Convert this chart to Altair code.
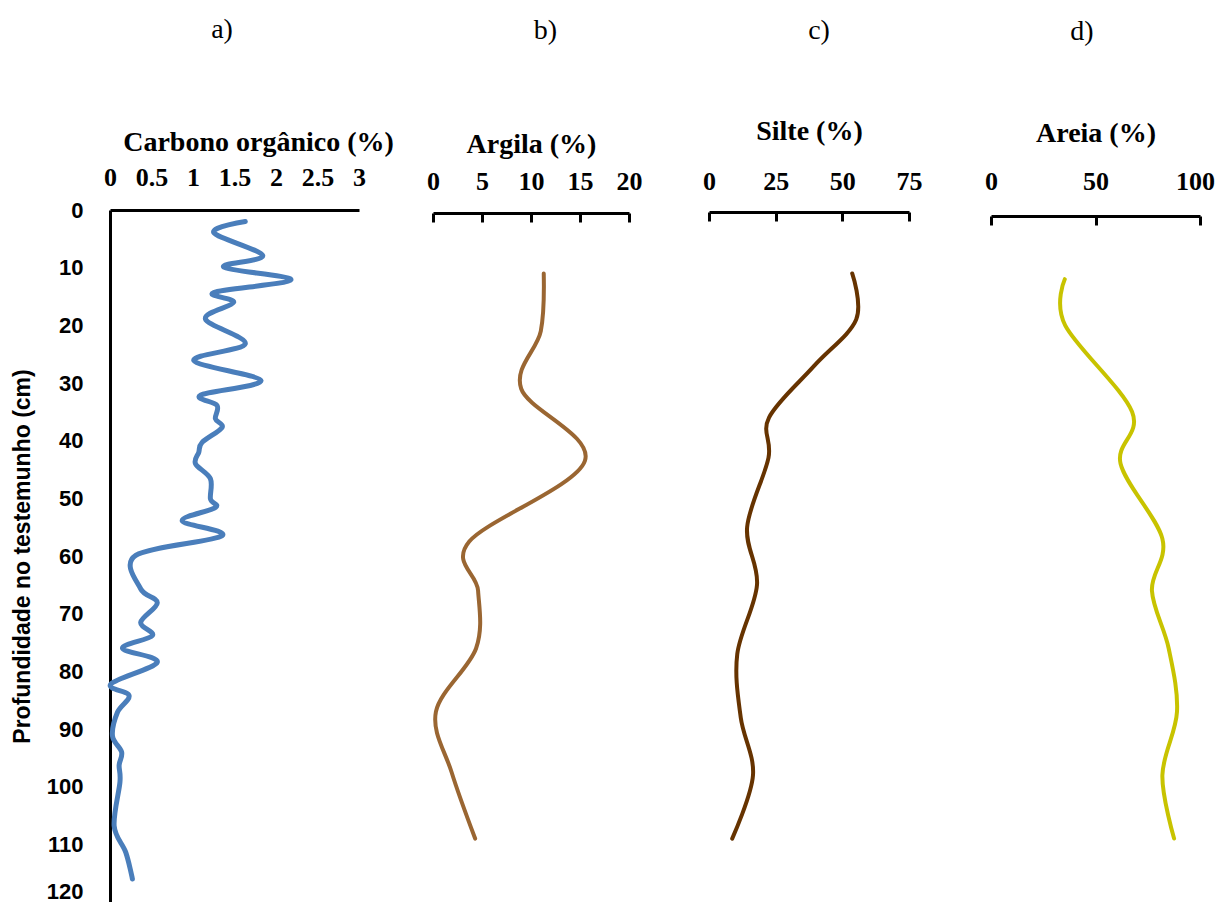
import altair as alt
import pandas as pd

# ---------------- data ----------------
carb_depth = [2.0, 3.9, 7.9, 9.9, 12.1, 14.3, 16.0, 18.9, 23.2, 26.1, 29.6, 32.1, 33.9, 36.2, 37.7,
              40.3, 42.0, 44.0, 46.6, 50.1, 51.6, 53.9, 56.5, 59.9, 65.7, 68.1, 71.5, 73.8, 76.0,
              78.4, 82.2, 84.2, 87.1, 91.2, 94.0, 96.3, 99.2, 106.8, 111.4, 116.0]
carb_val = [1.63, 1.25, 1.84, 1.37, 2.18, 1.25, 1.49, 1.15, 1.63, 1.01, 1.82, 1.09, 1.29, 1.27, 1.35,
            1.11, 1.07, 1.03, 1.21, 1.21, 1.27, 0.87, 1.35, 0.31, 0.37, 0.57, 0.37, 0.51, 0.15,
            0.57, 0.01, 0.23, 0.09, 0.03, 0.14, 0.11, 0.12, 0.05, 0.19, 0.27]

arg_depth = [11, 21, 31, 43.5, 57.5, 66, 76, 87, 97.5, 109]
arg_val = [11.3, 11.0, 9.0, 15.5, 3.7, 4.6, 4.4, 0.3, 1.9, 4.3]

silt_depth = [11, 19, 27, 36, 43, 55, 65, 77, 88, 98, 109]
silt_val = [53.7, 55.2, 39.5, 22.5, 22.3, 14.3, 18.0, 10.6, 11.9, 16.5, 8.7]

areia_depth = [12, 20, 35, 44, 57, 66, 76, 87, 98, 109]
areia_val = [35.3, 35.5, 67.5, 62.0, 82.0, 77.0, 85.0, 89.0, 82.0, 87.6]

panel_labels = ["a)", "b)", "c)", "d)"]
x_titles = ["Carbono orgânico (%)", "Argila (%)", "Silte (%)", "Areia (%)"]
carb_ticks = [0, 0.5, 1, 1.5, 2, 2.5, 3]
arg_ticks = [0, 5, 10, 15, 20]
silt_ticks = [0, 25, 50, 75]
areia_ticks = [0, 50, 100]
depth_ticks = list(range(0, 121, 10))
y_title = "Profundidade no testemunho (cm)"

# ---------------- style ----------------
SERIF = "Liberation Serif"
SANS = "Liberation Sans"
H = 692


def ydepth(with_axis):
    if with_axis:
        ax = alt.Axis(values=depth_ticks, ticks=False, tickSize=0, grid=False,
                      domainColor="black", domainWidth=3,
                      labelFont=SANS, labelFontSize=22, labelFontWeight="bold",
                      labelColor="black", labelPadding=27, labelFlush=False,
                      labelOffset=alt.condition("datum.value == 120", alt.value(-11), alt.value(0)),
                      title=y_title, titleFont=SANS, titleFontSize=23,
                      titleFontWeight="bold", titleColor="black", titlePadding=12)
    else:
        ax = None
    return alt.Y("depth:Q", scale=alt.Scale(domain=[0, 120], reverse=True, nice=False, zero=False),
                 axis=ax)


def top_axis(ticks, title, label_pad, title_pad, offset, title_x=None):
    kw = {}
    if title_x is not None:
        kw["titleX"] = title_x
    last = ticks[-1]
    shift = -5 if last == 100 else 0
    return alt.Axis(orient="top", values=ticks, ticks=False, tickSize=0, grid=False,
                    domainColor="black", domainWidth=3, offset=offset, format="~f",
                    labelFont=SERIF, labelFontSize=26, labelFontWeight="bold",
                    labelColor="black", labelPadding=label_pad, labelFlush=False,
                    labelOverlap=False,
                    labelOffset=alt.condition(f"datum.value == {last}", alt.value(shift),
                                              alt.value(0)),
                    title=title, titleFont=SERIF, titleFontSize=28, titleFontWeight="bold",
                    titleColor="black", titlePadding=title_pad, **kw)


def panel(depths, vals, ticks, title, label, color, width, stroke, label_pad, title_pad,
          offset, t_offset, t_dx, first=False, title_x=None):
    df = pd.DataFrame({"depth": depths, "v": vals})
    xscale = alt.Scale(domain=[ticks[0], ticks[-1]], nice=False, zero=False)
    base = alt.Chart(df)
    line = base.mark_line(color=color, strokeWidth=stroke, interpolate="cardinal",
                          strokeCap="round", strokeJoin="round").encode(
        x=alt.X("v:Q", scale=xscale,
                axis=top_axis(ticks, title, label_pad, title_pad, offset, title_x)),
        y=ydepth(first),
        order=alt.Order("depth:Q"),
    )
    layers = [line]
    if not first:
        tick_layer = base.mark_line(opacity=0).encode(
            x=alt.X("v:Q", scale=xscale,
                    axis=alt.Axis(orient="bottom", offset=-(H + offset), values=ticks,
                                  labels=False, domain=False, ticks=True, tickSize=9,
                                  tickWidth=3, tickColor="black", grid=False, title=None)),
            y=ydepth(False),
            order=alt.Order("depth:Q"),
        )
        layers.append(tick_layer)
    ch = alt.layer(*layers)
    if not first:
        ch = ch.resolve_axis(x="independent")
    return ch.properties(
        width=width, height=H,
        title=alt.TitleParams(text=label, font=SERIF, fontSize=28, fontWeight="normal",
                              color="black", offset=t_offset, dx=t_dx, anchor="middle"),
    )


pa = panel(carb_depth, carb_val, carb_ticks, x_titles[0], panel_labels[0], "#4a7ebb", 249, 5,
           20, 7.5, 0, 84.5, -12.5, first=True, title_x=148)
pb = panel(arg_depth, arg_val, arg_ticks, x_titles[1], panel_labels[1], "#9a6632", 196, 4,
           18.5, 10, -3, 86, 14.5)
pc = panel(silt_depth, silt_val, silt_ticks, x_titles[2], panel_labels[2], "#663300", 200, 4,
           17.5, 23, -2, 73, 10)
pd_ = panel(areia_depth, areia_val, areia_ticks, x_titles[3], panel_labels[3], "#c8c300", 209, 4,
            21.5, 21, -6, 74, -13.5)

inner_cd = alt.hconcat(pc, pd_, spacing=82, bounds="flush")
inner_bcd = alt.hconcat(pb, inner_cd, spacing=80, bounds="flush")
chart = alt.hconcat(pa, inner_bcd, spacing=74, bounds="flush").properties(
    padding={"left": 3, "top": 8, "right": 0, "bottom": 0}
).configure(background="white").configure_view(stroke=None)

chart.save("out.html", embed_options={"renderer": "svg", "actions": False})
